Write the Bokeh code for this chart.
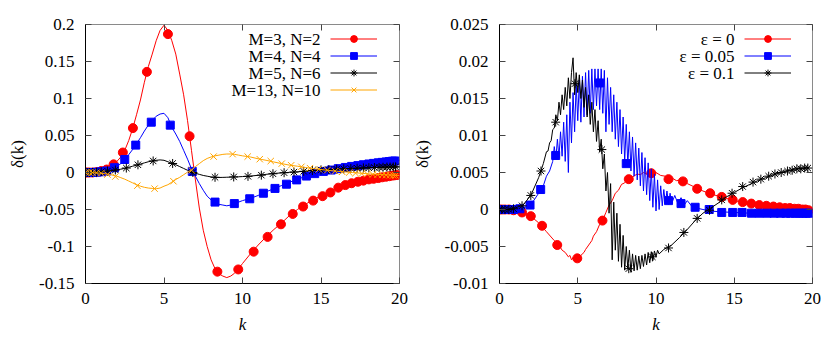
from bokeh.plotting import figure
from bokeh.models import Range1d, FixedTicker, LinearAxis, Legend, LegendItem, Label
from bokeh.layouts import row
from bokeh.embed import file_html
from bokeh.resources import INLINE

# ---------------- left panel data ----------------
k_left = [0, 0.5, 1, 1.5, 2, 2.25, 2.5, 2.75, 3, 3.25, 3.5, 3.75, 4, 4.25, 4.5, 4.75,
          5, 5.25, 5.5, 5.75, 6, 6.25, 6.5, 6.75, 7, 7.25, 7.5, 7.75, 8, 8.25, 8.5, 8.75,
          9, 9.25, 9.5, 9.75, 10, 10.5, 11, 11.5, 12, 12.5, 13, 13.5, 14, 14.5, 15, 15.5,
          16, 17, 18, 19, 20]
d_m3n2 = [0, 0.0002, 0.002, 0.005, 0.015, 0.021, 0.03, 0.043, 0.059, 0.078, 0.098, 0.122,
          0.143, 0.16, 0.178, 0.192, 0.199, 0.192, 0.178, 0.16, 0.133, 0.105, 0.07, 0.03,
          -0.01, -0.048, -0.078, -0.1, -0.118, -0.13, -0.137, -0.14, -0.142, -0.14, -0.136,
          -0.13, -0.123, -0.11, -0.098, -0.087, -0.077, -0.068, -0.058, -0.05, -0.043,
          -0.037, -0.031, -0.026, -0.021, -0.014, -0.0095, -0.006, -0.003]
d_m4n4 = [0, 0.0001, 0.001, 0.003, 0.008, 0.012, 0.0176, 0.024, 0.031, 0.039, 0.047, 0.056,
          0.064, 0.07, 0.076, 0.079, 0.08, 0.074, 0.061, 0.052, 0.042, 0.03, 0.018, 0.005,
          -0.005, -0.015, -0.024, -0.032, -0.037, -0.04, -0.043, -0.044, -0.045, -0.044,
          -0.042, -0.04, -0.038, -0.035, -0.031, -0.026, -0.022, -0.0175, -0.013, -0.0095,
          -0.005, -0.002, 0.001, 0.003, 0.005, 0.009, 0.012, 0.0145, 0.0165]
d_m5n6 = [0, 0.0001, 0.001, 0.002, 0.0035, 0.0045, 0.0055, 0.007, 0.0085, 0.0098, 0.0115,
          0.013, 0.0145, 0.0155, 0.0165, 0.017, 0.0165, 0.0145, 0.0125, 0.0105, 0.008,
          0.0055, 0.003, 0.0008, -0.001, -0.0025, -0.004, -0.005, -0.006, -0.0065, -0.0067,
          -0.0066, -0.0064, -0.0062, -0.006, -0.0058, -0.0055, -0.0048, -0.0038, -0.0025,
          -0.0013, -0.0005, 0.0002, 0.0009, 0.0018, 0.0028, 0.0035, 0.004, 0.0045, 0.0055,
          0.0065, 0.0072, 0.0076]
d_m13n10 = [0, -0.0002, -0.001, -0.0025, -0.005, -0.007, -0.009, -0.0115, -0.014, -0.0165,
            -0.0185, -0.02, -0.021, -0.0215, -0.022, -0.021, -0.0185, -0.0165, -0.013,
            -0.0095, -0.0065, -0.003, 0.0005, 0.0035, 0.008, 0.012, 0.016, 0.019, 0.021,
            0.0225, 0.0235, 0.0245, 0.025, 0.025, 0.0245, 0.0235, 0.0225, 0.021, 0.0185,
            0.0165, 0.0142, 0.012, 0.0099, 0.0085, 0.0068, 0.0053, 0.004, 0.0028, 0.0017,
            0.0, -0.0018, -0.003, -0.004]

# marker (point) samples, left panel
km_m3n2 = [0, 0.1, 0.25, 0.45, 0.7, 1.0, 1.35, 1.79, 2.38, 3.02, 3.91, 5.25, 6.63, 8.4,
           9.73, 10.71, 11.6, 12.45, 13.2, 13.86, 14.5, 15.1, 15.6, 16.1, 16.55, 16.95,
           17.35, 17.7, 18.05, 18.35, 18.65, 18.9, 19.15, 19.35, 19.55, 19.7, 19.85]
dm_m3n2 = [0, 0, 0, 0, 0.0005, 0.002, 0.004, 0.011, 0.027, 0.06, 0.136, 0.187, 0.049,
           -0.134, -0.131, -0.107, -0.087, -0.07, -0.056, -0.046, -0.038, -0.032, -0.027,
           -0.0205, -0.017, -0.0145, -0.0125, -0.011, -0.0093, -0.0085, -0.0075, -0.0065,
           -0.0057, -0.005, -0.0042, -0.0038, -0.0034]
km_m4n4 = [0, 0.1, 0.25, 0.45, 0.7, 1.0, 1.35, 1.85, 2.5, 3.2, 4.19, 5.4, 6.8, 8.25, 9.48,
           10.46, 11.33, 12.07, 12.8, 13.45, 14.07, 14.6, 15.15, 15.65, 16.1, 16.55, 16.95,
           17.35, 17.7, 18.05, 18.35, 18.65, 18.9, 19.15, 19.35, 19.55, 19.7]
dm_m4n4 = [0, 0, 0, 0, 0.0003, 0.001, 0.002, 0.0065, 0.0176, 0.037, 0.068, 0.064, 0.0015,
           -0.040, -0.042, -0.0355, -0.028, -0.0215, -0.0158, -0.010, -0.0048, -0.0015,
           0.0015, 0.0033, 0.0052, 0.0068, 0.0082, 0.0093, 0.0105, 0.0115, 0.0123, 0.0131,
           0.0137, 0.0143, 0.0148, 0.0153, 0.0156]
km_m5n6 = [0, 0.1, 0.25, 0.45, 0.7, 1.0, 1.4, 1.9, 2.6, 3.34, 4.31, 5.55, 6.84, 8.25, 9.44,
           10.35, 11.2, 11.94, 12.65, 13.28, 13.9, 14.45, 15.0, 15.5, 16.0, 16.45, 16.9,
           17.3, 17.7, 18.05, 18.4, 18.7, 18.95, 19.2, 19.4, 19.6, 19.75]
dm_m5n6 = [0, 0, 0, 0.0001, 0.0005, 0.001, 0.002, 0.0034, 0.006, 0.0104, 0.0156, 0.0122,
           0.0, -0.0065, -0.006, -0.0052, -0.0036, -0.0017, -0.0003, 0.0006, 0.0016, 0.0027,
           0.0035, 0.004, 0.0045, 0.005, 0.0054, 0.0058, 0.0062, 0.0065, 0.0067, 0.0069,
           0.0071, 0.0073, 0.0074, 0.0075, 0.0076]
km_m13n10 = [0, 0.1, 0.25, 0.45, 0.7, 1.0, 1.4, 1.9, 3.3, 4.4, 5.6, 6.76, 8.16, 9.37, 10.33,
             11.1, 11.8, 12.5, 13.1, 13.75, 14.3, 14.86, 15.4, 15.9, 16.35, 16.8, 17.2,
             17.6, 17.95, 18.3, 18.6, 18.9, 19.15, 19.4, 19.6, 19.75]
dm_m13n10 = [0, 0, 0, -0.0001, -0.0004, -0.001, -0.0028, -0.0055, -0.0178, -0.0218, -0.0118,
             0.003, 0.0215, 0.0248, 0.0215, 0.018, 0.0155, 0.012, 0.0098, 0.0077, 0.0059,
             0.0044, 0.003, 0.0019, 0.0009, 0.0, -0.0008, -0.0015, -0.0021, -0.0026, -0.003,
             -0.0033, -0.0035, -0.0037, -0.0039, -0.004]

labels_left = ["M=3, N=2", "M=4, N=4", "M=5, N=6", "M=13, N=10"]

# ---------------- right panel data ----------------
k_eps0 = [0, 0.5, 1.0, 1.5, 2.0, 2.5, 3.0, 3.5, 3.8, 4.0, 4.2, 4.4, 4.5, 4.6, 4.7, 4.8, 4.9,
          5.0, 5.2, 5.4, 5.5, 5.7, 5.9, 6.0, 6.2, 6.4, 6.6, 6.8, 7.0, 7.2, 7.4, 7.6, 7.8,
          8.0, 8.2, 8.5, 8.8, 9.0, 9.2, 9.4, 9.6, 9.8, 10.0, 10.3, 10.6, 10.8, 11.0, 11.3,
          11.6, 11.8, 12.0, 12.5, 13.0, 13.5, 14.0, 14.5, 15.0, 15.5, 16.0, 17.0, 18.0,
          19.0, 20.0]
d_eps0 = [0, 0, -0.0001, -0.0004, -0.0009, -0.0018, -0.003, -0.0042, -0.0048, -0.0055,
          -0.0058, -0.0064, -0.0062, -0.0068, -0.0065, -0.0069, -0.0066, -0.0067, -0.0062,
          -0.0058, -0.0054, -0.0048, -0.0042, -0.0036, -0.0030, -0.0020, -0.0014, -0.0004,
          0.0006, 0.0012, 0.0022, 0.0026, 0.0034, 0.0036, 0.0041, 0.0044, 0.0048, 0.0047,
          0.0050, 0.0048, 0.0051, 0.0048, 0.0050, 0.0046, 0.0045, 0.0041, 0.0043, 0.0039,
          0.0040, 0.0037, 0.0035, 0.0030, 0.0025, 0.0021, 0.0018, 0.0015, 0.0012, 0.0010,
          0.0008, 0.0005, 0.0003, 0.0001, -0.0001]

k_eps005_a = [0, 0.5, 1.0, 1.5, 2.0, 2.5, 2.8, 3.0, 3.2, 3.4]
d_eps005_a = [0, 0, 0.0001, 0.0002, 0.0006, 0.0022, 0.0032, 0.0045, 0.0052, 0.0065]
k_eps005_b = [round(3.5 + 0.1 * i, 1) for i in range(71)]
d_eps005_b = [0.0085, 0.0068, 0.0095, 0.0070, 0.0105, 0.0072, 0.0118, 0.0065, 0.0128,
              0.0050, 0.0145, 0.0090, 0.0158, 0.0105, 0.0170, 0.0120, 0.0175, 0.0118,
              0.0180, 0.0125, 0.0185, 0.0128, 0.0188, 0.0130, 0.0190, 0.0135, 0.0190,
              0.0140, 0.0190, 0.0135, 0.0190, 0.0130, 0.0188, 0.0105, 0.0178, 0.0115,
              0.0165, 0.0105, 0.0155, 0.0095, 0.0145, 0.0085, 0.0135, 0.0075, 0.0125,
              0.0065, 0.0115, 0.0060, 0.0105, 0.0052, 0.0098, 0.0045, 0.0090, 0.0040,
              0.0083, 0.0032, 0.0077, 0.0025, 0.0070, 0.0020, 0.0063, 0.0012, 0.0055,
              0.0003, 0.0048, -0.0002, 0.0040, 0.0000, 0.0032, 0.0005, 0.0027]
k_eps005_c = [10.6, 10.7, 10.8, 10.9, 11.0, 11.2, 11.4, 11.6, 11.8, 12.0, 12.3, 12.6, 13.0,
              13.5, 14.0, 15.0, 16.0, 17.0, 18.0, 19.0, 20.0]
d_eps005_c = [0.0008, 0.0025, 0.0007, 0.0022, 0.0008, 0.0019, 0.0008, 0.0016, 0.0006,
              0.0012, 0.0004, 0.0002, 0.0, -0.0002, -0.0003, -0.0004, -0.0005, -0.0005,
              -0.0005, -0.0005, -0.0005]

k_eps01_a = [0, 0.5, 1.0, 1.5, 2.0, 2.5, 2.8]
d_eps01_a = [0, 0, 0.0002, 0.0006, 0.0019, 0.0043, 0.0062]
k_eps01_b = [round(3.0 + 0.1 * i, 1) for i in range(73)]
d_eps01_b = [0.0078, 0.0079, 0.0090, 0.0093, 0.0108, 0.0110, 0.0128, 0.0120, 0.0145,
             0.0128, 0.0155, 0.0135, 0.0165, 0.0140, 0.0178, 0.0150, 0.0185, 0.0205,
             0.0155, 0.0185, 0.0158, 0.0182, 0.0150, 0.0175, 0.0138, 0.0165, 0.0125,
             0.0155, 0.0115, 0.0145, 0.0105, 0.0135, 0.0092, 0.0120, 0.0078, 0.0095,
             0.0055, 0.0075, 0.0025, 0.0050, -0.0005, 0.0035, -0.0068, 0.0010, -0.0055,
             -0.0005, -0.0070, -0.0020, -0.0078, -0.0035, -0.0082, -0.0050, -0.0080,
             -0.0055, -0.0085, -0.0060, -0.0083, -0.0062, -0.0082, -0.0063, -0.0080,
             -0.0062, -0.0077, -0.0060, -0.0075, -0.0058, -0.0072, -0.0057, -0.0069,
             -0.0056, -0.0064, -0.0055, -0.0060]
k_eps01_c = [10.5, 11, 11.5, 12, 12.5, 13, 13.5, 14, 14.5, 15, 15.5, 16, 16.5, 17, 17.5,
             18, 18.5, 19, 19.5, 19.8]
d_eps01_c = [-0.0054, -0.0048, -0.0038, -0.0027, -0.0015, -0.0005, 0.0002, 0.0009, 0.0017,
             0.0023, 0.0029, 0.0034, 0.0039, 0.0043, 0.0047, 0.005, 0.0053, 0.0055, 0.0056,
             0.0057]

k_eps005 = k_eps005_a + k_eps005_b + k_eps005_c
d_eps005 = d_eps005_a + d_eps005_b + d_eps005_c
k_eps01 = k_eps01_a + k_eps01_b + k_eps01_c
d_eps01 = d_eps01_a + d_eps01_b + d_eps01_c

km_eps0 = [0, 0.15, 0.35, 0.6, 0.9, 1.44, 2.0, 2.72, 3.69, 4.97, 6.58, 8.26, 9.7, 10.8,
           11.72, 12.63, 13.46, 14.2, 14.9, 15.54, 16.09, 16.6, 17.05, 17.5, 17.9, 18.25,
           18.55, 18.85, 19.1, 19.35, 19.55, 19.75]
dm_eps0 = [0, 0, 0, 0, -0.0001, -0.0004, -0.0009, -0.0022, -0.0048, -0.0066, -0.0015,
           0.0041, 0.0049, 0.0041, 0.0038, 0.0028, 0.0022, 0.0017, 0.0013, 0.001, 0.0008,
           0.0006, 0.0005, 0.0004, 0.0003, 0.0002, 0.0002, 0.0001, 0.0001, 0.0, 0.0, -0.0001]
km_eps005 = [0, 0.15, 0.35, 0.6, 0.9, 1.3, 1.95, 2.63, 3.59, 6.41, 8.1, 10.8, 11.6, 12.5,
             13.4, 14.2, 14.9, 15.5, 16.1, 16.6, 17.1, 17.55, 17.95, 18.3, 18.6, 18.9,
             19.15, 19.4, 19.6, 19.8]
dm_eps005 = [0, 0, 0, 0, 0, 0.0001, 0.0006, 0.0027, 0.0073, 0.0171, 0.0062, 0.0012, 0.0008,
             0.0003, 0.0, -0.0004, -0.0004, -0.0004, -0.0005, -0.0005, -0.0005, -0.0005,
             -0.0005, -0.0005, -0.0005, -0.0005, -0.0005, -0.0005, -0.0005, -0.0005]
km_eps01 = [0, 0.15, 0.35, 0.6, 0.9, 1.44, 2.0, 2.65, 3.59, 4.82, 6.54, 8.26, 9.77, 10.8,
            11.78, 12.63, 13.42, 14.2, 14.86, 15.54, 16.2, 16.7, 17.2, 17.6, 18.0, 18.4,
            18.7, 19.0, 19.25, 19.5, 19.7]
dm_eps01 = [0, 0, 0, 0, 0.0001, 0.0005, 0.0019, 0.0052, 0.0118, 0.017, 0.0081, -0.008,
            -0.0064, -0.0052, -0.0031, -0.0012, -0.0001, 0.0013, 0.0022, 0.0031, 0.0037,
            0.0041, 0.0045, 0.0048, 0.005, 0.0052, 0.0053, 0.0055, 0.0055, 0.0056, 0.0056]

labels_right = ["\u03b5 = 0", "\u03b5 = 0.05", "\u03b5 = 0.1"]

x_ticks = [0, 5, 10, 15, 20]
y_ticks_left = [-0.15, -0.1, -0.05, 0, 0.05, 0.1, 0.15, 0.2]
y_tick_labels_left = ["-0.15", "-0.1", "-0.05", "0", "0.05", "0.1", "0.15", "0.2"]
y_ticks_right = [-0.01, -0.005, 0, 0.005, 0.01, 0.015, 0.02, 0.025]
y_tick_labels_right = ["-0.01", "-0.005", "0", "0.005", "0.01", "0.015", "0.02", "0.025"]

FONT = "Liberation Serif"
FS = "17px"
TICK_COLOR = "#444444"


def make_panel(width, border_left, border_right, ylo, yhi, yticks, ylabels, ylabel_standoff):
    p = figure(width=width, height=341, x_range=Range1d(0, 20), y_range=Range1d(ylo, yhi),
               output_backend="svg", toolbar_location=None,
               min_border_left=border_left, min_border_right=border_right,
               min_border_top=24, min_border_bottom=58)
    p.grid.visible = False
    p.outline_line_color = "#8a8a8a"
    p.outline_line_width = 1
    p.background_fill_color = "white"
    p.border_fill_color = "white"

    xa = p.xaxis[0]
    ya = p.yaxis[0]
    xa.ticker = FixedTicker(ticks=x_ticks)
    ya.ticker = FixedTicker(ticks=yticks)
    ya.major_label_overrides = {t: s for t, s in zip(yticks, ylabels)}
    for ax in (xa, ya):
        ax.axis_line_color = "black"
        ax.axis_line_width = 1
        ax.major_tick_in = 6
        ax.major_tick_out = 0
        ax.major_tick_line_color = TICK_COLOR
        ax.major_tick_line_width = 1
        ax.minor_tick_line_color = None
        ax.major_label_text_font = FONT
        ax.major_label_text_font_size = FS
        ax.major_label_text_color = "black"
        ax.axis_label_text_font = FONT
        ax.axis_label_text_font_size = FS
        ax.axis_label_text_color = "black"
    xa.axis_label = "k"
    xa.axis_label_text_font_style = "italic"
    xa.major_label_standoff = 9
    xa.axis_label_standoff = 8
    ya.axis_label = "\u03b4(k)"
    ya.axis_label_text_font_style = "normal"
    ya.major_label_standoff = 11
    ya.axis_label_standoff = ylabel_standoff

    # mirrored ticks on top and right
    top = LinearAxis(ticker=FixedTicker(ticks=x_ticks), major_tick_in=6, major_tick_out=0,
                     major_tick_line_color=TICK_COLOR, minor_tick_line_color=None,
                     axis_line_color=None, major_label_text_font_size="1px",
                     major_label_text_alpha=0, major_label_standoff=0)
    right = LinearAxis(ticker=FixedTicker(ticks=yticks), major_tick_in=6, major_tick_out=0,
                       major_tick_line_color=TICK_COLOR, minor_tick_line_color=None,
                       axis_line_color=None, major_label_text_font_size="1px",
                       major_label_text_alpha=0, major_label_standoff=0)
    p.add_layout(top, "above")
    p.add_layout(right, "right")
    return p


def add_series(p, k, d, km, dm, color, marker, size):
    ln = p.line(k, d, line_color=color, line_width=1)
    if marker in ("circle", "square"):
        sc = p.scatter(km, dm, marker=marker, size=size, fill_color=color, line_color=color)
    else:
        sc = p.scatter(km, dm, marker=marker, size=size, line_color=color, line_width=1)
    return [ln, sc]


def add_key(p, renderer_groups, labels, loc):
    items = [LegendItem(label=" ", renderers=g) for g in renderer_groups]
    lg = Legend(items=items, location=loc, glyph_width=47, glyph_height=17, spacing=0,
                padding=0, margin=0, label_standoff=0, label_width=0, label_height=0,
                label_text_font_size="1px", border_line_color=None,
                background_fill_alpha=0)
    p.add_layout(lg)
    top_row = loc[1] + 17 * len(labels) - 8.5
    for i, txt in enumerate(labels):
        p.add_layout(Label(x=loc[0] - 10, y=top_row - 17 * i, x_units="screen",
                           y_units="screen", text=txt, text_align="right",
                           text_baseline="middle", text_font=FONT, text_font_size=FS,
                           text_color="black"))


# ---------------- left ----------------
p1 = make_panel(409, 85, 10, -0.15, 0.2, y_ticks_left, y_tick_labels_left, 9)
g1 = add_series(p1, k_left, d_m3n2, km_m3n2, dm_m3n2, "#ff0000", "circle", 9)
g2 = add_series(p1, k_left, d_m4n4, km_m4n4, dm_m4n4, "#0000ff", "square", 8)
g3 = add_series(p1, k_left, d_m5n6, km_m5n6, dm_m5n6, "#000000", "asterisk", 9)
g4 = add_series(p1, k_left, d_m13n10, km_m13n10, dm_m13n10, "#ffa500", "x", 9)
add_key(p1, [g1, g2, g3, g4], labels_left, (245, 185))

# ---------------- right ----------------
p2 = make_panel(416, 89, 13, -0.01, 0.025, y_ticks_right, y_tick_labels_right, 10)
h1 = add_series(p2, k_eps0, d_eps0, km_eps0, dm_eps0, "#ff0000", "circle", 9)
h2 = add_series(p2, k_eps005, d_eps005, km_eps005, dm_eps005, "#0000ff", "square", 8)
h3 = add_series(p2, k_eps01, d_eps01, km_eps01, dm_eps01, "#000000", "asterisk", 9)
add_key(p2, [h1, h2, h3], labels_right, (245, 202))

layout = row(p1, p2)
open("out.html", "w").write(file_html(layout, INLINE))
